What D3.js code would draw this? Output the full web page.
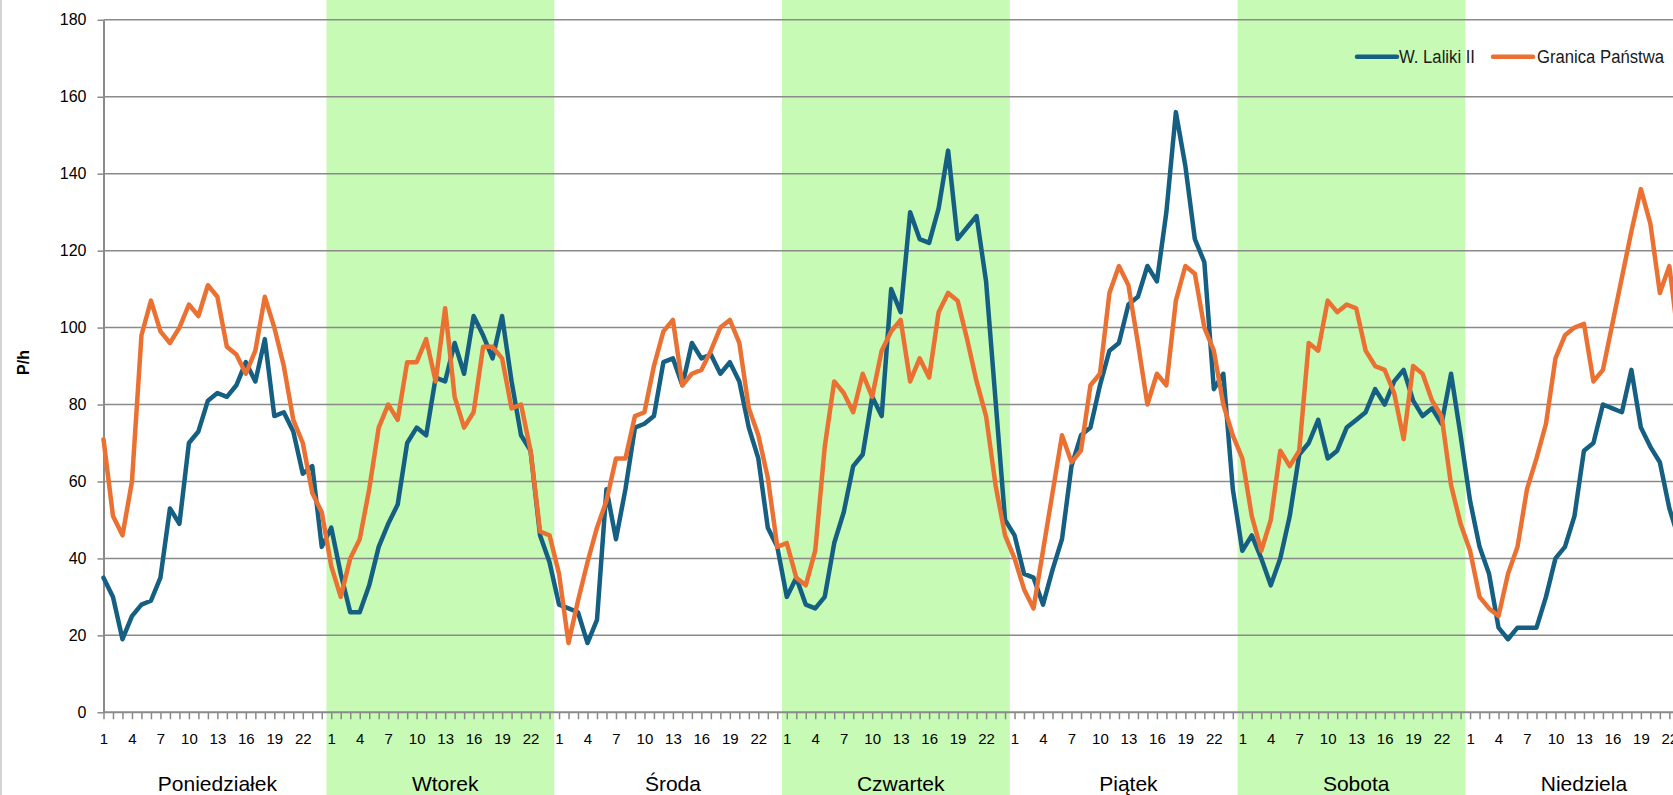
<!DOCTYPE html>
<html>
<head>
<meta charset="utf-8">
<script src="https://cdn.jsdelivr.net/npm/d3@7/dist/d3.min.js"></script>
<style>
  html, body { margin: 0; padding: 0; background: #ffffff; overflow: hidden; }
  svg { display: block; font-family: "Liberation Sans", Arial, sans-serif; }
</style>
</head>
<body>
<svg id="chart" width="1673" height="795"></svg>
<script>
// ---------- data ----------
const days = ["Poniedziałek", "Wtorek", "Środa", "Czwartek", "Piątek", "Sobota", "Niedziela"];
const hoursPerDay = 24;
const shadedDays = [1, 3, 5];
const hourTickLabels = [1, 4, 7, 10, 13, 16, 19, 22];
const yTicks = [0, 20, 40, 60, 80, 100, 120, 140, 160, 180];
const seriesNames = ["W. Laliki II", "Granica Państwa"];

const lalikiII = [
  35, 30, 19, 25, 28, 29, 35, 53, 49, 70, 73, 81, 83, 82, 85, 91, 86, 97, 77, 78, 73, 62, 64, 43,
  48, 36, 26, 26, 33, 43, 49, 54, 70, 74, 72, 87, 86, 96, 88, 103, 98, 92, 103, 86, 72, 68, 46, 39,
  28, 27, 26, 18, 24, 58, 45, 58, 74, 75, 77, 91, 92, 85, 96, 92, 93, 88, 91, 86, 74, 66, 48, 43,
  30, 35, 28, 27, 30, 44, 52, 64, 67, 82, 77, 110, 104, 130, 123, 122, 131, 146, 123, 126, 129, 112, 81, 50,
  46, 36, 35, 28, 37, 45, 64, 72, 74, 85, 94, 96, 106, 108, 116, 112, 130, 156, 142, 123, 117, 84, 88, 58,
  42, 46, 40, 33, 40, 51, 67, 70, 76, 66, 68, 74, 76, 78, 84, 80, 86, 89, 81, 77, 79, 75, 88, 72,
  55, 43, 36, 22, 19, 22, 22, 22, 30, 40, 43, 51, 68, 70, 80, 79, 78, 89, 74, 69, 65, 53, 45, 38
];
const granicaPanstwa = [
  71, 51, 46, 60, 98, 107, 99, 96, 100, 106, 103, 111, 108, 95, 93, 88, 94, 108, 100, 90, 76, 70, 57, 52,
  38, 30, 40, 45, 58, 74, 80, 76, 91, 91, 97, 86, 105, 82, 74, 78, 95, 95, 92, 79, 80, 68, 47, 46,
  36, 18, 29, 39, 48, 55, 66, 66, 77, 78, 90, 99, 102, 85, 88, 89, 94, 100, 102, 96, 79, 72, 61, 43,
  44, 35, 33, 42, 69, 86, 83, 78, 88, 82, 94, 99, 102, 86, 92, 87, 104, 109, 107, 97, 86, 77, 59, 46,
  40, 32, 27, 42, 57, 72, 65, 68, 85, 88, 109, 116, 111, 96, 80, 88, 85, 107, 116, 114, 100, 94, 80, 72,
  66, 51, 42, 50, 68, 64, 68, 96, 94, 107, 104, 106, 105, 94, 90, 89, 83, 71, 90, 88, 81, 77, 59, 49,
  42, 30, 27, 25, 36, 43, 58, 66, 75, 92, 98, 100, 101, 86, 89, 101, 113, 125, 136, 127, 109, 116, 96, 85
];

// ---------- layout ----------
const colors = ["#155F82", "#EB7133"];
const bandColor = "#C6FAB5";
const gridColor = "#8A8A8A";
const axisColor = "#8A8A8A";

const svg = d3.select("#chart");
const nCat = days.length * hoursPerDay;
const x0 = 103.5, step = 9.49;
const x = d3.scalePoint().domain(d3.range(nCat)).range([x0, x0 + (nCat - 1) * step]);
const y = d3.scaleLinear().domain([0, 180]).range([712.3, 19.8]);
const st = x.step();

// left border of chart area
svg.append("line").attr("x1", 1).attr("x2", 1).attr("y1", 0).attr("y2", 795)
  .attr("stroke", "#c4c4c4").attr("stroke-width", 1.5);

// shaded day bands
svg.append("g").selectAll("rect").data(shadedDays).join("rect")
  .attr("x", d => x(d * hoursPerDay) - st / 2)
  .attr("width", hoursPerDay * st)
  .attr("y", 0).attr("height", 795)
  .attr("fill", bandColor);

// gridlines
svg.append("g").selectAll("line").data(yTicks.filter(v => v > 0)).join("line")
  .attr("x1", x0).attr("x2", 1673)
  .attr("y1", d => y(d)).attr("y2", d => y(d))
  .attr("stroke", gridColor).attr("stroke-width", 1.5);

// y axis
const yAxis = svg.append("g").attr("transform", `translate(${x0},0)`)
  .call(d3.axisLeft(y).tickValues(yTicks).tickSize(6).tickPadding(11).tickSizeOuter(0));
yAxis.select(".domain").attr("stroke", axisColor).attr("stroke-width", 2);
yAxis.selectAll(".tick line").attr("stroke", axisColor).attr("stroke-width", 1.5);
yAxis.selectAll(".tick text").attr("font-size", 16).attr("fill", "#000")
  .attr("font-family", "'Liberation Sans', Arial, sans-serif");

// x axis
const xAxis = svg.append("g").attr("transform", `translate(0,${y(0)})`)
  .call(d3.axisBottom(x).tickSize(7).tickPadding(14).tickSizeOuter(0)
    .tickFormat(i => hourTickLabels.includes(i % hoursPerDay + 1) ? String(i % hoursPerDay + 1) : ""));
xAxis.select(".domain").attr("stroke", axisColor).attr("stroke-width", 2)
  .attr("d", `M${x0},0H1673`);
xAxis.selectAll(".tick line").attr("stroke", axisColor).attr("stroke-width", 1.5);
xAxis.selectAll(".tick text").attr("font-size", 15).attr("fill", "#000")
  .attr("font-family", "'Liberation Sans', Arial, sans-serif");

// day labels
svg.append("g").selectAll("text").data(days).join("text")
  .attr("x", (d, i) => x(i * hoursPerDay) + 12 * st)
  .attr("y", 791)
  .attr("text-anchor", "middle")
  .attr("font-size", 21)
  .attr("fill", "#000")
  .text(d => d);

// y axis title
svg.append("text")
  .attr("transform", "translate(29,362.5) rotate(-90)")
  .attr("text-anchor", "middle")
  .attr("font-size", 16).attr("font-weight", "bold")
  .attr("font-family", "'Liberation Sans', Arial, sans-serif")
  .text("P/h");

// series lines
const line = d3.line().x((d, i) => x(i)).y(d => y(d));
[lalikiII, granicaPanstwa].forEach((vals, k) => {
  svg.append("path").datum(vals)
    .attr("d", line)
    .attr("fill", "none")
    .attr("stroke", colors[k])
    .attr("stroke-width", 4.5)
    .attr("stroke-linejoin", "round")
    .attr("stroke-linecap", "round");
});

// legend
const legendItems = [
  { name: seriesNames[0], color: colors[0], lx: 1357, tx: 1399, tw: 76 },
  { name: seriesNames[1], color: colors[1], lx: 1493, tx: 1537, tw: 127 }
];
const lg = svg.append("g");
legendItems.forEach(it => {
  lg.append("line").attr("x1", it.lx).attr("x2", it.lx + 40)
    .attr("y1", 56.7).attr("y2", 56.7)
    .attr("stroke", it.color).attr("stroke-width", 4.5).attr("stroke-linecap", "round");
  lg.append("text").attr("x", it.tx).attr("y", 62.5)
    .attr("font-size", 18).attr("fill", "#1a1a1a")
    .attr("textLength", it.tw).attr("lengthAdjust", "spacingAndGlyphs")
    .text(it.name);
});
</script>
</body>
</html>
